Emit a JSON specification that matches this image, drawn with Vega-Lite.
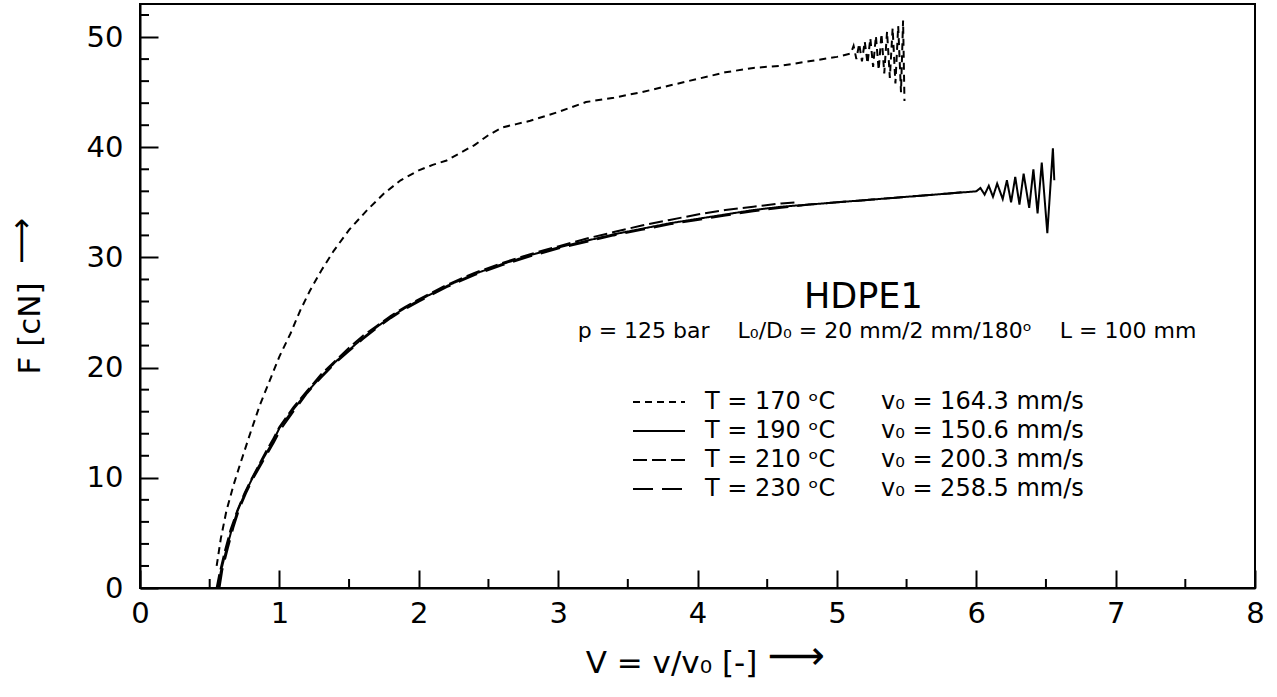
{
  "$schema": "https://vega.github.io/schema/vega-lite/v6.json",
  "width": 1115,
  "height": 584,
  "autosize": {"type": "none"},
  "padding": {"left": 140, "top": 4, "right": 22, "bottom": 109},
  "background": "white",
  "config": {
    "font": "DejaVu Sans",
    "view": {"stroke": "black", "strokeWidth": 2},
    "axis": {
      "grid": false,
      "domainColor": "black",
      "domainWidth": 2,
      "tickColor": "black",
      "tickWidth": 2,
      "tickSize": -18,
      "labelColor": "black",
      "labelFont": "DejaVu Sans",
      "labelFontSize": 29,
      "labelOverlap": false,
      "labelFlush": false,
      "titleFont": "DejaVu Sans",
      "titleFontSize": 31,
      "titleFontWeight": "normal",
      "titleColor": "black"
    }
  },
  "datasets": {
    "curves": [
      {"series": "170", "x": 0.55, "y": 2.0},
      {"series": "170", "x": 0.58, "y": 4.5},
      {"series": "170", "x": 0.62, "y": 7.0},
      {"series": "170", "x": 0.67, "y": 9.3},
      {"series": "170", "x": 0.72, "y": 11.3},
      {"series": "170", "x": 0.79, "y": 14.0},
      {"series": "170", "x": 0.86, "y": 16.6},
      {"series": "170", "x": 0.93, "y": 18.8},
      {"series": "170", "x": 1.0, "y": 21.0},
      {"series": "170", "x": 1.08, "y": 23.1},
      {"series": "170", "x": 1.15, "y": 25.2},
      {"series": "170", "x": 1.22, "y": 27.0},
      {"series": "170", "x": 1.3, "y": 28.8},
      {"series": "170", "x": 1.39, "y": 30.6},
      {"series": "170", "x": 1.5, "y": 32.5},
      {"series": "170", "x": 1.63, "y": 34.3},
      {"series": "170", "x": 1.75, "y": 35.8},
      {"series": "170", "x": 1.87, "y": 37.0},
      {"series": "170", "x": 2.0, "y": 37.9},
      {"series": "170", "x": 2.1, "y": 38.4},
      {"series": "170", "x": 2.2, "y": 38.8},
      {"series": "170", "x": 2.3, "y": 39.5},
      {"series": "170", "x": 2.4, "y": 40.2},
      {"series": "170", "x": 2.5, "y": 41.1},
      {"series": "170", "x": 2.6, "y": 41.8},
      {"series": "170", "x": 2.7, "y": 42.1},
      {"series": "170", "x": 2.8, "y": 42.4},
      {"series": "170", "x": 3.0, "y": 43.2},
      {"series": "170", "x": 3.2, "y": 44.1},
      {"series": "170", "x": 3.4, "y": 44.5},
      {"series": "170", "x": 3.6, "y": 45.0},
      {"series": "170", "x": 3.8, "y": 45.6},
      {"series": "170", "x": 4.0, "y": 46.2},
      {"series": "170", "x": 4.2, "y": 46.8},
      {"series": "170", "x": 4.4, "y": 47.2},
      {"series": "170", "x": 4.6, "y": 47.4},
      {"series": "170", "x": 4.8, "y": 47.8},
      {"series": "170", "x": 5.0, "y": 48.2},
      {"series": "170", "x": 5.1, "y": 48.5},
      {"series": "170", "x": 5.12, "y": 49.2},
      {"series": "170", "x": 5.14, "y": 48.0},
      {"series": "170", "x": 5.16, "y": 49.4},
      {"series": "170", "x": 5.18, "y": 47.8},
      {"series": "170", "x": 5.2, "y": 49.6},
      {"series": "170", "x": 5.22, "y": 47.6},
      {"series": "170", "x": 5.24, "y": 49.9},
      {"series": "170", "x": 5.26, "y": 47.3},
      {"series": "170", "x": 5.28, "y": 50.1},
      {"series": "170", "x": 5.3, "y": 47.0},
      {"series": "170", "x": 5.32, "y": 50.3},
      {"series": "170", "x": 5.34, "y": 46.7},
      {"series": "170", "x": 5.36, "y": 50.5},
      {"series": "170", "x": 5.38, "y": 46.3},
      {"series": "170", "x": 5.4, "y": 50.8},
      {"series": "170", "x": 5.42, "y": 45.8},
      {"series": "170", "x": 5.44, "y": 51.0},
      {"series": "170", "x": 5.46, "y": 45.0},
      {"series": "170", "x": 5.475, "y": 51.5},
      {"series": "170", "x": 5.485, "y": 44.2},

      {"series": "210", "x": 0.55, "y": 0},
      {"series": "210", "x": 0.57, "y": 1.3},
      {"series": "210", "x": 0.61, "y": 3.4},
      {"series": "210", "x": 0.65, "y": 5.3},
      {"series": "210", "x": 0.7, "y": 7.1},
      {"series": "210", "x": 0.75, "y": 8.6},
      {"series": "210", "x": 0.8, "y": 9.9},
      {"series": "210", "x": 0.85, "y": 11.1},
      {"series": "210", "x": 0.9, "y": 12.3},
      {"series": "210", "x": 0.95, "y": 13.4},
      {"series": "210", "x": 1.0, "y": 14.6},
      {"series": "210", "x": 1.1, "y": 16.4},
      {"series": "210", "x": 1.2, "y": 17.9},
      {"series": "210", "x": 1.3, "y": 19.4},
      {"series": "210", "x": 1.4, "y": 20.6},
      {"series": "210", "x": 1.5, "y": 21.8},
      {"series": "210", "x": 1.6, "y": 22.9},
      {"series": "210", "x": 1.7, "y": 23.8},
      {"series": "210", "x": 1.8, "y": 24.7},
      {"series": "210", "x": 1.9, "y": 25.5},
      {"series": "210", "x": 2.0, "y": 26.2},
      {"series": "210", "x": 2.2, "y": 27.5},
      {"series": "210", "x": 2.4, "y": 28.6},
      {"series": "210", "x": 2.6, "y": 29.5},
      {"series": "210", "x": 2.8, "y": 30.3},
      {"series": "210", "x": 3.0, "y": 31.0},
      {"series": "210", "x": 3.2, "y": 31.7},
      {"series": "210", "x": 3.4, "y": 32.3},
      {"series": "210", "x": 3.6, "y": 32.9},
      {"series": "210", "x": 3.8, "y": 33.4},
      {"series": "210", "x": 4.0, "y": 33.9},
      {"series": "210", "x": 4.2, "y": 34.3},
      {"series": "210", "x": 4.4, "y": 34.6},
      {"series": "210", "x": 4.6, "y": 34.9},
      {"series": "210", "x": 4.7, "y": 35.0},

      {"series": "230", "x": 0.57, "y": 0},
      {"series": "230", "x": 0.59, "y": 1.6},
      {"series": "230", "x": 0.63, "y": 3.6},
      {"series": "230", "x": 0.67, "y": 5.5},
      {"series": "230", "x": 0.71, "y": 7.1},
      {"series": "230", "x": 0.76, "y": 8.6},
      {"series": "230", "x": 0.81, "y": 9.9},
      {"series": "230", "x": 0.86, "y": 11.0},
      {"series": "230", "x": 0.91, "y": 12.1},
      {"series": "230", "x": 0.96, "y": 13.2},
      {"series": "230", "x": 1.01, "y": 14.4},
      {"series": "230", "x": 1.1, "y": 16.0},
      {"series": "230", "x": 1.2, "y": 17.7},
      {"series": "230", "x": 1.3, "y": 19.1},
      {"series": "230", "x": 1.4, "y": 20.4},
      {"series": "230", "x": 1.5, "y": 21.5},
      {"series": "230", "x": 1.6, "y": 22.6},
      {"series": "230", "x": 1.7, "y": 23.6},
      {"series": "230", "x": 1.8, "y": 24.5},
      {"series": "230", "x": 1.9, "y": 25.3},
      {"series": "230", "x": 2.0, "y": 26.0},
      {"series": "230", "x": 2.2, "y": 27.3},
      {"series": "230", "x": 2.4, "y": 28.4},
      {"series": "230", "x": 2.6, "y": 29.3},
      {"series": "230", "x": 2.8, "y": 30.1},
      {"series": "230", "x": 3.0, "y": 30.8},
      {"series": "230", "x": 3.2, "y": 31.4},
      {"series": "230", "x": 3.4, "y": 32.0},
      {"series": "230", "x": 3.6, "y": 32.5},
      {"series": "230", "x": 3.8, "y": 33.0},
      {"series": "230", "x": 4.0, "y": 33.4},
      {"series": "230", "x": 4.2, "y": 33.8},
      {"series": "230", "x": 4.4, "y": 34.2},
      {"series": "230", "x": 4.6, "y": 34.5},
      {"series": "230", "x": 4.8, "y": 34.8},
      {"series": "230", "x": 5.0, "y": 35.0},
      {"series": "230", "x": 5.2, "y": 35.2},
      {"series": "230", "x": 5.4, "y": 35.4},
      {"series": "230", "x": 5.6, "y": 35.6},
      {"series": "230", "x": 5.8, "y": 35.8},
      {"series": "230", "x": 5.95, "y": 36.0},

      {"series": "190", "x": 0.56, "y": 0},
      {"series": "190", "x": 0.58, "y": 1.5},
      {"series": "190", "x": 0.62, "y": 3.5},
      {"series": "190", "x": 0.66, "y": 5.4},
      {"series": "190", "x": 0.7, "y": 7.0},
      {"series": "190", "x": 0.75, "y": 8.5},
      {"series": "190", "x": 0.8, "y": 9.8},
      {"series": "190", "x": 0.85, "y": 11.0},
      {"series": "190", "x": 0.9, "y": 12.1},
      {"series": "190", "x": 0.95, "y": 13.2},
      {"series": "190", "x": 1.0, "y": 14.5},
      {"series": "190", "x": 1.1, "y": 16.2},
      {"series": "190", "x": 1.2, "y": 17.8},
      {"series": "190", "x": 1.3, "y": 19.2},
      {"series": "190", "x": 1.4, "y": 20.5},
      {"series": "190", "x": 1.5, "y": 21.6},
      {"series": "190", "x": 1.6, "y": 22.7},
      {"series": "190", "x": 1.7, "y": 23.7},
      {"series": "190", "x": 1.8, "y": 24.6},
      {"series": "190", "x": 1.9, "y": 25.4},
      {"series": "190", "x": 2.0, "y": 26.1},
      {"series": "190", "x": 2.2, "y": 27.4},
      {"series": "190", "x": 2.4, "y": 28.5},
      {"series": "190", "x": 2.6, "y": 29.4},
      {"series": "190", "x": 2.8, "y": 30.2},
      {"series": "190", "x": 3.0, "y": 30.9},
      {"series": "190", "x": 3.2, "y": 31.5},
      {"series": "190", "x": 3.4, "y": 32.1},
      {"series": "190", "x": 3.6, "y": 32.6},
      {"series": "190", "x": 3.8, "y": 33.1},
      {"series": "190", "x": 4.0, "y": 33.5},
      {"series": "190", "x": 4.2, "y": 33.9},
      {"series": "190", "x": 4.4, "y": 34.3},
      {"series": "190", "x": 4.6, "y": 34.6},
      {"series": "190", "x": 4.8, "y": 34.8},
      {"series": "190", "x": 5.0, "y": 35.0},
      {"series": "190", "x": 5.2, "y": 35.2},
      {"series": "190", "x": 5.4, "y": 35.4},
      {"series": "190", "x": 5.6, "y": 35.6},
      {"series": "190", "x": 5.8, "y": 35.8},
      {"series": "190", "x": 6.0, "y": 36.0},
      {"series": "190", "x": 6.03, "y": 36.3},
      {"series": "190", "x": 6.06, "y": 35.7},
      {"series": "190", "x": 6.09, "y": 36.5},
      {"series": "190", "x": 6.12, "y": 35.5},
      {"series": "190", "x": 6.15, "y": 36.7},
      {"series": "190", "x": 6.19, "y": 35.3},
      {"series": "190", "x": 6.22, "y": 37.0},
      {"series": "190", "x": 6.25, "y": 35.0},
      {"series": "190", "x": 6.28, "y": 37.3},
      {"series": "190", "x": 6.31, "y": 34.8},
      {"series": "190", "x": 6.34, "y": 37.6},
      {"series": "190", "x": 6.38, "y": 34.5},
      {"series": "190", "x": 6.41, "y": 38.0},
      {"series": "190", "x": 6.44, "y": 34.0},
      {"series": "190", "x": 6.47, "y": 38.6},
      {"series": "190", "x": 6.51, "y": 32.2},
      {"series": "190", "x": 6.55, "y": 39.9},
      {"series": "190", "x": 6.56, "y": 37.0}
    ],
    "minorX": [{"v": 0.5}, {"v": 1.5}, {"v": 2.5}, {"v": 3.5}, {"v": 4.5}, {"v": 5.5}, {"v": 6.5}, {"v": 7.5}],
    "minorY": [{"v": 2}, {"v": 4}, {"v": 6}, {"v": 8}, {"v": 12}, {"v": 14}, {"v": 16}, {"v": 18}, {"v": 22}, {"v": 24}, {"v": 26}, {"v": 28}, {"v": 32}, {"v": 34}, {"v": 36}, {"v": 38}, {"v": 42}, {"v": 44}, {"v": 46}, {"v": 48}, {"v": 52}],
    "notes1": [{"x": 5.19, "y": 26.4, "text": "HDPE1"}],
    "notes2": [{"x": 5.36, "y": 23.3, "text": "p = 125 bar\u00a0\u00a0\u00a0\u00a0L₀/D₀ = 20 mm/2 mm/180ᵒ\u00a0\u00a0\u00a0\u00a0L = 100 mm"}],
    "arrowX": [{"x": 4.71, "y": -6.3, "text": "⟶"}],
    "arrowY": [{"x": -0.85, "y": 31.5, "text": "⟶"}]
  },
  "layer": [
    {
      "data": {"name": "curves"},
      "mark": {"type": "line", "stroke": "black", "strokeWidth": 2, "clip": true},
      "encoding": {
        "x": {
          "field": "x", "type": "quantitative",
          "scale": {"domain": [0, 8], "nice": false, "zero": false},
          "axis": {
            "values": [0, 1, 2, 3, 4, 5, 6, 7, 8],
            "format": "d",
            "labelPadding": 29,
            "title": "V = v/v₀ [-]",
            "titleX": 531,
            "titleAnchor": "start",
            "titleAlign": "center",
            "titlePadding": 20
          }
        },
        "y": {
          "field": "y", "type": "quantitative",
          "scale": {"domain": [0, 53], "nice": false, "zero": false},
          "axis": {
            "values": [0, 10, 20, 30, 40, 50],
            "format": "d",
            "labelPadding": 35,
            "title": "F [cN]",
            "titleY": 324,
            "titleAnchor": "start",
            "titleAlign": "center",
            "titlePadding": 40
          }
        },
        "strokeDash": {
          "field": "series", "type": "nominal",
          "scale": {"domain": ["170", "190", "210", "230"], "range": [[7, 5], [1, 0], [14, 5], [20, 9]]},
          "legend": {
            "orient": "none",
            "legendX": 505,
            "legendY": 384,
            "title": null,
            "padding": 0,
            "symbolType": "M-2,0H2",
            "symbolSize": 676,
            "symbolStrokeWidth": 2,
            "symbolStrokeColor": "black",
            "labelOffset": 32,
            "labelFont": "DejaVu Sans",
            "labelFontSize": 24,
            "labelColor": "black",
            "rowPadding": 3,
            "labelLimit": 700,
            "labelExpr": "{'170': 'T = 170 ᵒC\u00a0\u00a0\u00a0\u00a0\u00a0\u00a0v₀ = 164.3 mm/s', '190': 'T = 190 ᵒC\u00a0\u00a0\u00a0\u00a0\u00a0\u00a0v₀ = 150.6 mm/s', '210': 'T = 210 ᵒC\u00a0\u00a0\u00a0\u00a0\u00a0\u00a0v₀ = 200.3 mm/s', '230': 'T = 230 ᵒC\u00a0\u00a0\u00a0\u00a0\u00a0\u00a0v₀ = 258.5 mm/s'}[datum.label]"
          }
        },
        "detail": {"field": "series", "type": "nominal"}
      }
    },
    {
      "data": {"name": "minorX"},
      "mark": {"type": "tick", "orient": "vertical", "color": "black", "size": 9, "thickness": 2, "yOffset": -4.5, "opacity": 1},
      "encoding": {
        "x": {"field": "v", "type": "quantitative"},
        "y": {"datum": 0, "type": "quantitative"}
      }
    },
    {
      "data": {"name": "minorY"},
      "mark": {"type": "tick", "orient": "horizontal", "color": "black", "size": 9, "thickness": 2, "xOffset": 4.5, "opacity": 1},
      "encoding": {
        "y": {"field": "v", "type": "quantitative"},
        "x": {"datum": 0, "type": "quantitative"}
      }
    },
    {
      "data": {"name": "notes1"},
      "mark": {"type": "text", "fontSize": 35, "font": "DejaVu Sans", "color": "black", "align": "center", "baseline": "middle"},
      "encoding": {
        "x": {"field": "x", "type": "quantitative"},
        "y": {"field": "y", "type": "quantitative"},
        "text": {"field": "text"}
      }
    },
    {
      "data": {"name": "notes2"},
      "mark": {"type": "text", "fontSize": 22, "font": "DejaVu Sans", "color": "black", "align": "center", "baseline": "middle"},
      "encoding": {
        "x": {"field": "x", "type": "quantitative"},
        "y": {"field": "y", "type": "quantitative"},
        "text": {"field": "text"}
      }
    },
    {
      "data": {"name": "arrowX"},
      "mark": {"type": "text", "fontSize": 40, "font": "DejaVu Sans", "color": "black", "align": "center", "baseline": "middle", "clip": false},
      "encoding": {
        "x": {"field": "x", "type": "quantitative", "scale": {"domain": [0, 8], "nice": false, "zero": false}},
        "y": {"field": "y", "type": "quantitative", "scale": {"domain": [0, 53], "nice": false, "zero": false}},
        "text": {"field": "text"}
      }
    },
    {
      "data": {"name": "arrowY"},
      "mark": {"type": "text", "fontSize": 32, "font": "DejaVu Sans", "color": "black", "align": "center", "baseline": "middle", "angle": 270, "clip": false},
      "encoding": {
        "x": {"field": "x", "type": "quantitative", "scale": {"domain": [0, 8], "nice": false, "zero": false}},
        "y": {"field": "y", "type": "quantitative", "scale": {"domain": [0, 53], "nice": false, "zero": false}},
        "text": {"field": "text"}
      }
    }
  ]
}
